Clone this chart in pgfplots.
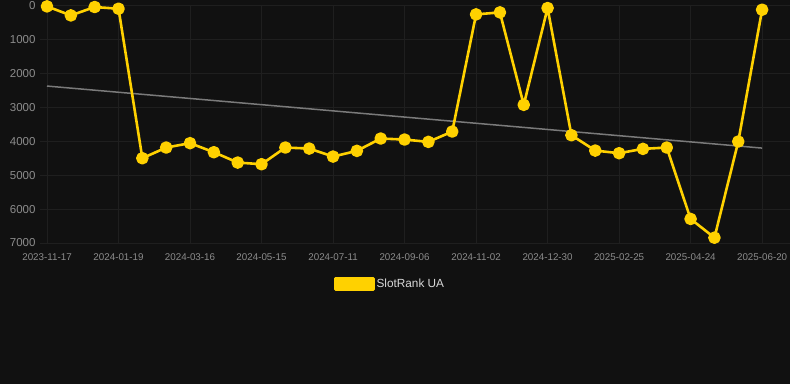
\documentclass[border=0pt]{standalone}
\usepackage{fontspec}
\setmainfont{Liberation Sans}
\usepackage{pgfplots}
\pgfplotsset{compat=1.18}
\definecolor{bg}{HTML}{111111}
\definecolor{gridc}{HTML}{1F1F1F}
\definecolor{ticklab}{HTML}{8C8C8C}
\definecolor{ser}{HTML}{FFD100}
\definecolor{trend}{HTML}{7A7A7A}
\definecolor{legtext}{HTML}{D8D8D8}
\begin{document}
\begin{tikzpicture}[x=1pt,y=1pt]
\fill[bg] (0,0) rectangle (790,384);
\begin{axis}[
  at={(40pt,141pt)}, anchor=south west,
  scale only axis, width=750pt, height=237.3pt,
  xmin=-0.294, xmax=31.17,
  ymin=0, ymax=7000, y dir=reverse,
  axis line style={draw=none},
  major tick length=0pt,
  grid=major,
  major grid style={gridc, line width=0.8pt},
  xtick={0,3,...,30},
  xticklabels={2023-11-17,2024-01-19,2024-03-16,2024-05-15,2024-07-11,2024-09-06,2024-11-02,2024-12-30,2025-02-25,2025-04-24,2025-06-20},
  ytick={0,1000,...,7000},
  /pgf/number format/1000 sep={},
  /pgf/number format/assume math mode=true,
  x tick label style={font=\fontsize{9.8}{11}\selectfont, text=ticklab, yshift=-7pt},
  y tick label style={font=\fontsize{11.5}{13}\selectfont, text=ticklab, xshift=-1pt},
  clip=false,
  legend style={at={(0.4667,-0.173)}, anchor=center, draw=none, fill=none,
    text=legtext, font=\fontsize{11.8}{13}\selectfont,
    /tikz/every even column/.append style={column sep=0pt}},
  legend image code/.code={\fill[ser] (0pt,-5.5pt) rectangle (38pt,5.5pt);},
]
\addplot[trend, line width=1.5pt, forget plot] coordinates {(0,2370) (30,4200)};
\addplot[ser, line width=2.6pt, line join=round, mark=*, mark size=5pt, mark options={solid, fill=ser, draw=none}] coordinates {
(0,20) (1,286) (2,39) (3,89) (4,4499) (5,4184) (6,4055) (7,4322) (8,4627) (9,4676)
(10,4184) (11,4214) (12,4450) (13,4282) (14,3918) (15,3948) (16,4017) (17,3712)
(18,256) (19,197) (20,2924) (21,69) (22,3820) (23,4273) (24,4351) (25,4223)
(26,4184) (27,6290) (28,6843) (29,4007) (30,118)};
\addlegendentry{SlotRank UA}
\end{axis}
\pgfresetboundingbox
\path (0,0) rectangle (790,384);
\end{tikzpicture}
\end{document}
